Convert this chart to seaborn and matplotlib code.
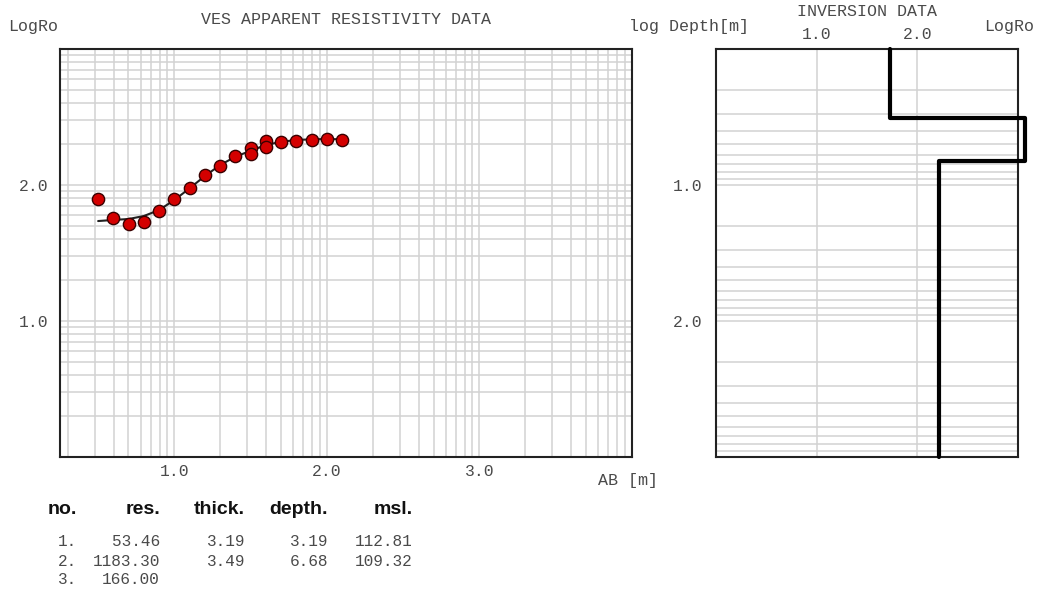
import numpy as np
import matplotlib
matplotlib.use("Agg")
import matplotlib.pyplot as plt
import seaborn as sns
import pandas as pd

# Field sounding: log10(AB/2) and log10(apparent resistivity)
log_ab = [0.5, 0.6, 0.7, 0.8, 0.9, 1.0, 1.1, 1.2, 1.3, 1.4, 1.5, 1.5,
          1.6, 1.6, 1.7, 1.8, 1.9, 2.0, 2.1]
log_rho = [1.897, 1.760, 1.715, 1.730, 1.811, 1.895, 1.980, 2.074, 2.138,
           2.213, 2.270, 2.226, 2.324, 2.277, 2.314, 2.326, 2.333, 2.336, 2.333]

# Model response curve
curve_ab = [0.5, 0.6, 0.7, 0.8, 0.9, 1.0, 1.1, 1.2, 1.3, 1.4, 1.5, 1.6,
            1.7, 1.8, 1.9, 2.0, 2.1]
curve_rho = [1.735, 1.743, 1.750, 1.772, 1.816, 1.890, 1.976, 2.066, 2.147,
             2.208, 2.252, 2.294, 2.318, 2.331, 2.336, 2.338, 2.336]

# Layered inversion result
layer_no = ["1.", "2.", "3."]
layer_res = [53.46, 1183.30, 166.00]
layer_thick = [3.19, 3.49]
layer_depth = [3.19, 6.68]
layer_msl = [112.81, 109.32]

W, H = 1048, 592
MONO = "Liberation Mono"
TXT = "#4a4a4a"
GRID = "#d2d2d2"

sns.set_style("white")
plt.rcParams["font.family"] = [MONO, "DejaVu Sans"]

fig = plt.figure(figsize=(W / 100, H / 100), dpi=100)


def fx(px):
    return px / W


def fy(py):
    return 1 - py / H


def log_minors(lo, hi):
    return [d + np.log10(k) for d in range(lo, hi) for k in range(2, 10)]


# ---------- apparent resistivity panel ----------
ax1 = fig.add_axes([fx(60), fy(457), (632 - 60) / W, (457 - 49) / H])
ax1.set_xlim(0.25, 4.0)
ax1.set_ylim(0.0, 3.0)
ax1.set_xticks([1.0, 2.0, 3.0])
ax1.set_xticks(log_minors(0, 4), minor=True)
ax1.set_yticks([1.0, 2.0])
ax1.set_yticks(log_minors(0, 3), minor=True)
ax1.set_xticklabels(["1.0", "2.0", "3.0"])
ax1.set_yticklabels(["1.0", "2.0"])
ax1.grid(True, which="both", color=GRID, linewidth=1.1)
ax1.set_axisbelow(True)
ax1.tick_params(which="both", length=0, labelsize=11.8, labelcolor=TXT)
ax1.tick_params(axis="y", pad=8)
ax1.tick_params(axis="x", pad=5)
for s in ax1.spines.values():
    s.set_color("#222222")
    s.set_linewidth(1.5)

curve_df = pd.DataFrame({"ab": curve_ab, "rho": curve_rho})
sns.lineplot(data=curve_df, x="ab", y="rho", ax=ax1, color="#222222",
             linewidth=1.5, sort=False, estimator=None, zorder=3)
pts_df = pd.DataFrame({"ab": log_ab, "rho": log_rho})
sns.scatterplot(data=pts_df, x="ab", y="rho", ax=ax1, color="#d40000",
                edgecolor="#3a0000", linewidth=1.0, s=78, zorder=4)
ax1.set_xlabel("")
ax1.set_ylabel("")

# ---------- inversion panel ----------
ax2 = fig.add_axes([fx(716), fy(457), (1018 - 716) / W, (457 - 49) / H])
ax2.set_xlim(0.0, 3.0)
ax2.set_ylim(3.0, 0.0)
ax2.set_xticks([1.0, 2.0])
ax2.set_xticklabels(["1.0", "2.0"])
ax2.set_yticks([1.0, 2.0])
ax2.set_yticks(log_minors(0, 3), minor=True)
ax2.set_yticklabels(["1.0", "2.0"])
ax2.xaxis.tick_top()
ax2.grid(True, which="major", axis="x", color=GRID, linewidth=1.1)
ax2.grid(True, which="both", axis="y", color=GRID, linewidth=1.1)
ax2.set_axisbelow(True)
ax2.tick_params(which="both", length=0, labelsize=11.8, labelcolor=TXT)
ax2.tick_params(axis="y", pad=10)
ax2.tick_params(axis="x", pad=5)
for s in ax2.spines.values():
    s.set_color("#222222")
    s.set_linewidth(1.5)

# Step profile built from the layer table
res_log = np.log10(layer_res)
bounds = [0.0] + list(np.log10(layer_depth)) + [3.0]
step_x, step_y = [], []
for i, r in enumerate(res_log):
    step_x += [r, r]
    step_y += [bounds[i], bounds[i + 1]]
step_df = pd.DataFrame({"rho": step_x, "depth": step_y})
sns.lineplot(data=step_df, x="rho", y="depth", ax=ax2, color="black",
             linewidth=3.0, sort=False, estimator=None, clip_on=False,
             zorder=5)
ax2.set_xlabel("")
ax2.set_ylabel("")

# ---------- labels ----------
LBL = dict(fontsize=12, color=TXT, family=MONO, va="center")
fig.text(fx(346), fy(19), "VES APPARENT RESISTIVITY DATA", ha="center", **LBL)
fig.text(fx(8), fy(27), "LogRo", ha="left", **LBL)
fig.text(fx(658), fy(480), "AB [m]", ha="right", **LBL)
fig.text(fx(867), fy(12), "INVERSION DATA", ha="center", **LBL)
fig.text(fx(749), fy(27), "log Depth[m]", ha="right", **LBL)
fig.text(fx(1034), fy(27), "LogRo", ha="right", **LBL)

# ---------- layer table ----------
HDR = dict(fontsize=14, fontweight="bold", color="#111111",
           family="Liberation Sans", va="center")
fig.text(fx(48), fy(510), "no.", ha="left", **HDR)
col_right = [160, 245, 328, 413]
for xr, name in zip(col_right, ["res.", "thick.", "depth.", "msl."]):
    fig.text(fx(xr), fy(510), name, ha="right", **HDR)

row_y = [541, 561, 580]
ROW = dict(fontsize=11.6, color=TXT, family=MONO, va="center")
for i, no in enumerate(layer_no):
    fig.text(fx(58), fy(row_y[i]), no, ha="left", **ROW)
    fig.text(fx(col_right[0]), fy(row_y[i]), f"{layer_res[i]:.2f}",
             ha="right", **ROW)
for i in range(len(layer_thick)):
    fig.text(fx(col_right[1]), fy(row_y[i]), f"{layer_thick[i]:.2f}",
             ha="right", **ROW)
    fig.text(fx(col_right[2]), fy(row_y[i]), f"{layer_depth[i]:.2f}",
             ha="right", **ROW)
    fig.text(fx(col_right[3]), fy(row_y[i]), f"{layer_msl[i]:.2f}",
             ha="right", **ROW)

fig.savefig("out.png", dpi=100)
